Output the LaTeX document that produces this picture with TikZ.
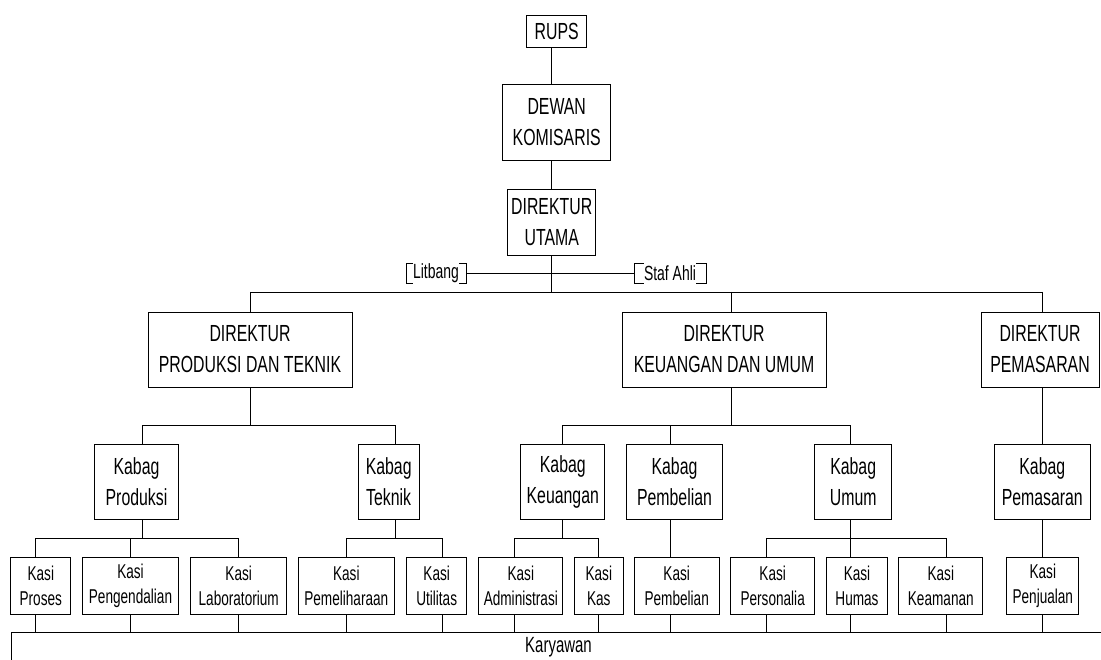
\documentclass[tikz,border=0pt]{standalone}
\usepackage{fontspec}
\setmainfont{Liberation Sans}[FakeStretch=0.68]
\newcommand{\hurufbesar}{\fontsize{23.3}{31}\selectfont}
\newcommand{\hurufkasi}{\fontsize{20}{24.5}\selectfont}
\newcommand{\hurufstaf}{\fontsize{20.5}{23}\selectfont}

\tikzset{
  garis/.style={line width=0.9pt},
  kotak/.style={draw, line width=0.9pt, align=center, inner sep=0pt, font=\hurufbesar},
  kotakdir/.style={kotak, minimum height=75},
  kotakkabag/.style={kotak, minimum height=75},
  kotakkasi/.style={kotak, font=\hurufkasi, minimum height=57},
  kurung/.style={draw, line width=0.9pt, inner sep=0pt, minimum height=20},
  tulisan/.style={fill=white, font=\hurufstaf, inner xsep=0.5pt, inner ysep=0pt, minimum height=26},
}

\begin{document}
\begin{tikzpicture}[x={(1pt,0pt)}, y={(0pt,-1pt)}]

    % Batas gambar
    \clip (0,0) rectangle (1101,660);

    % Pimpinan puncak
    \node[kotak, minimum width=60, minimum height=32] (rups) at (556.7,31) {RUPS};
    \node[kotak, minimum width=108, minimum height=76] (dewan) at (556.7,122) {DEWAN\\KOMISARIS};
    \node[kotak, minimum width=88, minimum height=66] (utama) at (551.7,222) {DIREKTUR\\UTAMA};

    % Staf
    \node[kurung, minimum width=60, label={[tulisan]center:Litbang}] (litbang) at (436,273) {};
    \node[kurung, minimum width=72, label={[tulisan]center:Staf Ahli}] (staf) at (670,273) {};

    % Direktur
    \node[kotakdir, minimum width=204] (dirprod) at (250,349.5) {DIREKTUR\\PRODUKSI DAN TEKNIK};
    \node[kotakdir, minimum width=204] (dirkeu) at (724,349.5) {DIREKTUR\\KEUANGAN DAN UMUM};
    \node[kotakdir, minimum width=118] (dirpem) at (1040,349.5) {DIREKTUR\\PEMASARAN};

    % Kepala bagian
    \node[kotakkabag, minimum width=84] (kbprod) at (136.5,481.5) {Kabag\\Produksi};
    \node[kotakkabag, minimum width=61] (kbtek) at (388.7,481.5) {Kabag\\Teknik};
    \node[kotakkabag, minimum width=84] (kbkeu) at (562.8,481.5) {Kabag\\Keuangan};
    \node[kotakkabag, minimum width=96] (kbbeli) at (674.5,481.5) {Kabag\\Pembelian};
    \node[kotakkabag, minimum width=77] (kbumum) at (853.2,481.5) {Kabag\\Umum};
    \node[kotakkabag, minimum width=96] (kbpem) at (1042.3,481.5) {Kabag\\Pemasaran};

    % Kepala seksi
    \node[kotakkasi, minimum width=60] (kproses) at (40.8,585.7) {Kasi\\Proses};
    \node[kotakkasi, minimum width=96] (kpeng) at (130.5,585.7) {Kasi\\Pengendalian};
    \node[kotakkasi, minimum width=96] (klab) at (238.7,585.7) {Kasi\\Laboratorium};
    \node[kotakkasi, minimum width=96] (kpelih) at (346.3,585.7) {Kasi\\Pemeliharaan};
    \node[kotakkasi, minimum width=60] (kutil) at (436.7,585.7) {Kasi\\Utilitas};
    \node[kotakkasi, minimum width=84] (kadm) at (520.8,585.7) {Kasi\\Administrasi};
    \node[kotakkasi, minimum width=49] (kkas) at (598.8,585.7) {Kasi\\Kas};
    \node[kotakkasi, minimum width=85] (kbeli) at (676.7,585.7) {Kasi\\Pembelian};
    \node[kotakkasi, minimum width=84] (kpers) at (772.7,585.7) {Kasi\\Personalia};
    \node[kotakkasi, minimum width=61] (khumas) at (857,585.7) {Kasi\\Humas};
    \node[kotakkasi, minimum width=84] (kaman) at (940.8,585.7) {Kasi\\Keamanan};
    \node[kotakkasi, minimum width=72] (kjual) at (1042.8,585.7) {Kasi\\Penjualan};

    % Karyawan
    \node[kotak, font=\fontsize{22}{26}\selectfont, minimum width=1095, minimum height=30] (karyawan) at (558.5,647) {Karyawan};

    % Posisi garis tegak dan garis mendatar
    \foreach \n/\x in {dirprod/250.7, dirkeu/731.7, dirpem/1042.3,
                       kbprod/142.7, kbtek/395, kbkeu/562.3, kbbeli/670.7, kbumum/850.7, kbpem/1042.3,
                       kproses/35, kpeng/130.7, klab/238.3, kpelih/346.7, kutil/442.7, kadm/514.7,
                       kkas/598.3, kbeli/670.7, kpers/766.7, khumas/850.7, kaman/946.7, kjual/1042.3}
      \coordinate (x\n) at (\x,0);
    \coordinate (bus1) at (0,292);
    \coordinate (bus2) at (0,425);
    \coordinate (bus3) at (0,538);

    % Garis pimpinan puncak dan staf
    \draw[garis] (rups.south -| utama) -- (dewan.north -| utama);
    \draw[garis] (dewan.south -| utama) -- (utama.north);
    \draw[garis] (utama.south) -- (utama.south |- bus1);
    \draw[garis] (litbang.east) -- (staf.west);

    % Garis ke direktur
    \draw[garis] (bus1 -| xdirprod) -- (bus1 -| xdirpem);
    \foreach \n in {dirprod,dirkeu,dirpem}
      \draw[garis] (bus1 -| x\n) -- (\n.north -| x\n);

    % Garis ke kabag
    \draw[garis] (dirprod.south -| xdirprod) -- (bus2 -| xdirprod);
    \draw[garis] (bus2 -| xkbprod) -- (bus2 -| xkbtek);
    \draw[garis] (dirkeu.south -| xdirkeu) -- (bus2 -| xdirkeu);
    \draw[garis] (bus2 -| xkbkeu) -- (bus2 -| xkbumum);
    \foreach \n in {kbprod,kbtek,kbkeu,kbbeli,kbumum}
      \draw[garis] (bus2 -| x\n) -- (\n.north -| x\n);
    \draw[garis] (dirpem.south -| xkbpem) -- (kbpem.north -| xkbpem);

    % Garis ke kasi
    \foreach \k in {kbprod,kbtek,kbkeu,kbumum}
      \draw[garis] (\k.south -| x\k) -- (bus3 -| x\k);
    \draw[garis] (bus3 -| xkproses) -- (bus3 -| xklab);
    \draw[garis] (bus3 -| xkpelih) -- (bus3 -| xkutil);
    \draw[garis] (bus3 -| xkadm) -- (bus3 -| xkkas);
    \draw[garis] (bus3 -| xkpers) -- (bus3 -| xkaman);
    \foreach \n in {kproses,kpeng,klab,kpelih,kutil,kadm,kkas,kpers,khumas,kaman}
      \draw[garis] (bus3 -| x\n) -- (\n.north -| x\n);
    \draw[garis] (kbbeli.south -| xkbeli) -- (kbeli.north -| xkbeli);
    \draw[garis] (kbpem.south -| xkjual) -- (kjual.north -| xkjual);

    % Garis ke karyawan
    \foreach \n in {kproses,kpeng,klab,kpelih,kutil,kadm,kkas,kbeli,kpers,khumas,kaman,kjual}
      \draw[garis] (\n.south -| x\n) -- (karyawan.north -| x\n);

\end{tikzpicture}
\end{document}
